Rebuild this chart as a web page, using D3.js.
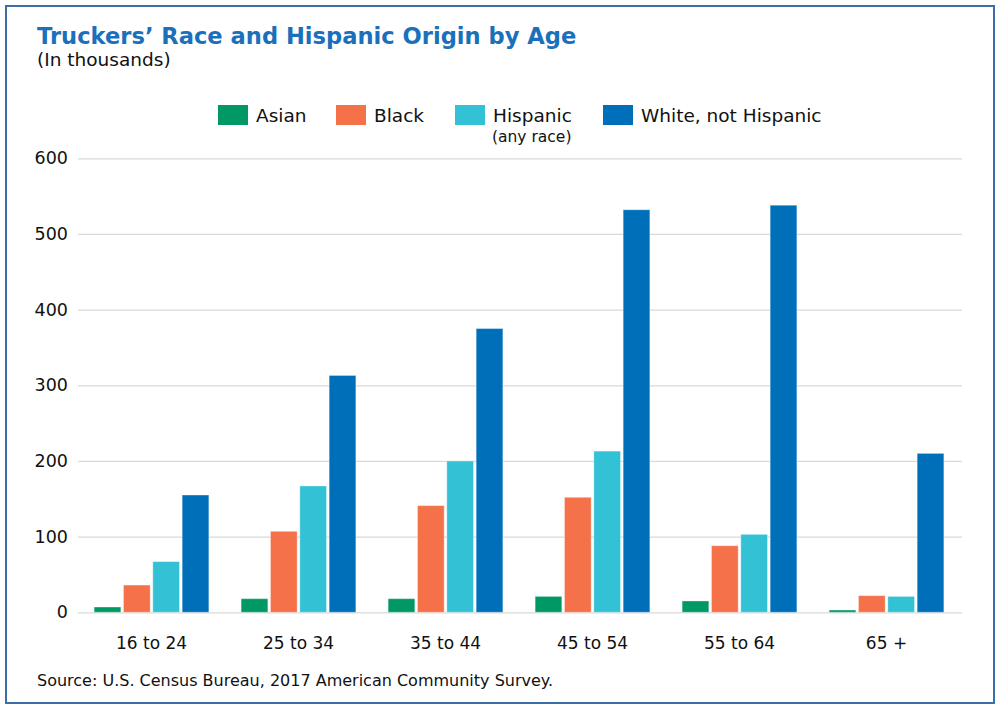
<!DOCTYPE html>
<html>
<head>
<meta charset="utf-8">
<script src="https://cdn.jsdelivr.net/npm/d3@7"></script>
<style>
  html, body { margin: 0; padding: 0; background: #fff; }
  svg { display: block; font-family: "DejaVu Sans", sans-serif; }
</style>
</head>
<body>
<svg id="chart" width="1000" height="709"></svg>
<script>
const categories = ["16 to 24", "25 to 34", "35 to 44", "45 to 54", "55 to 64", "65 +"];
const seriesNames = ["Asian", "Black", "Hispanic", "White, not Hispanic"];
const asian    = [7, 18, 18, 21, 15, 3];
const black    = [36, 107, 141, 152, 88, 22];
const hispanic = [67, 167, 200, 213, 103, 21];
const white    = [155, 313, 375, 532, 538, 210];
const yTicks   = [0, 100, 200, 300, 400, 500, 600];
const colors   = ["#009966", "#f4714a", "#33c1d6", "#006fba"];

const FONT = "DejaVu Sans, sans-serif";
const seriesValues = [asian, black, hispanic, white];
const data = categories.map((c, i) => ({
  cat: c,
  vals: seriesNames.map((s, j) => ({ key: s, value: seriesValues[j][i] }))
}));

const svg = d3.select("#chart");

// frame
svg.append("rect")
  .attr("x", 6).attr("y", 6).attr("width", 988).attr("height", 697)
  .attr("fill", "none").attr("stroke", "#3b6ea5").attr("stroke-width", 2);

// title
svg.append("text").attr("x", 37).attr("y", 44)
  .attr("fill", "#1a70ba").attr("font-weight", "bold").attr("font-size", 22.6)
  .attr("font-family", FONT)
  .text("Truckers’ Race and Hispanic Origin by Age");
svg.append("text").attr("x", 37).attr("y", 66)
  .attr("fill", "#111").attr("font-size", 18.5).attr("font-family", FONT)
  .text("(In thousands)");

const x0 = d3.scaleBand().domain(categories).range([78, 960]).padding(0);
const x1 = d3.scaleBand().domain(seriesNames).range([0, x0.bandwidth()])
  .paddingInner(0.09).paddingOuter(0.55);
const y = d3.scaleLinear().domain([0, 600]).range([612.3, 158.3]);

// gridlines
const yAxis = d3.axisLeft(y).tickValues(yTicks).tickSize(-(962 - 78)).tickPadding(10);
const gy = svg.append("g").attr("transform", "translate(78,0)").call(yAxis);
gy.select(".domain").remove();
gy.selectAll(".tick line").attr("stroke", "#d9d9d9").attr("stroke-width", 1.2);
gy.selectAll(".tick text").attr("font-size", 17.5).attr("fill", "#111")
  .attr("font-family", FONT).attr("x", -10);

// bars
const groups = svg.append("g").selectAll("g").data(data).join("g")
  .attr("transform", d => `translate(${x0(d.cat)},0)`);
groups.selectAll("rect").data(d => d.vals).join("rect")
  .attr("x", d => x1(d.key))
  .attr("width", x1.bandwidth())
  .attr("y", d => y(d.value))
  .attr("height", d => y(0) - y(d.value))
  .attr("fill", (d, i) => colors[i])
  .attr("stroke", "rgba(255,255,255,0.35)")
  .attr("stroke-width", 1);

// x axis labels
const xAxis = d3.axisBottom(x0).tickSize(0).tickPadding(0);
const gx = svg.append("g").attr("transform", "translate(0,632)").call(xAxis);
gx.select(".domain").remove();
gx.selectAll(".tick text").attr("font-size", 17).attr("fill", "#111")
  .attr("font-family", FONT).attr("dy", "1em");

// legend
const legendPos = [218, 336, 455, 603];
const legend = svg.append("g").selectAll("g").data(seriesNames).join("g")
  .attr("transform", (d, i) => `translate(${legendPos[i]},105)`);
legend.append("rect").attr("width", 30).attr("height", 20)
  .attr("fill", (d, i) => colors[i]);
legend.append("text").attr("x", 38).attr("y", 17)
  .attr("font-size", 18.5).attr("fill", "#111").attr("font-family", FONT).text(d => d);
svg.append("text").attr("x", 492).attr("y", 142)
  .attr("font-size", 15.5).attr("fill", "#111").attr("font-family", FONT).text("(any race)");

// source
svg.append("text").attr("x", 37).attr("y", 686)
  .attr("font-size", 16).attr("fill", "#111").attr("font-family", FONT)
  .text("Source: U.S. Census Bureau, 2017 American Community Survey.");
</script>
</body>
</html>
